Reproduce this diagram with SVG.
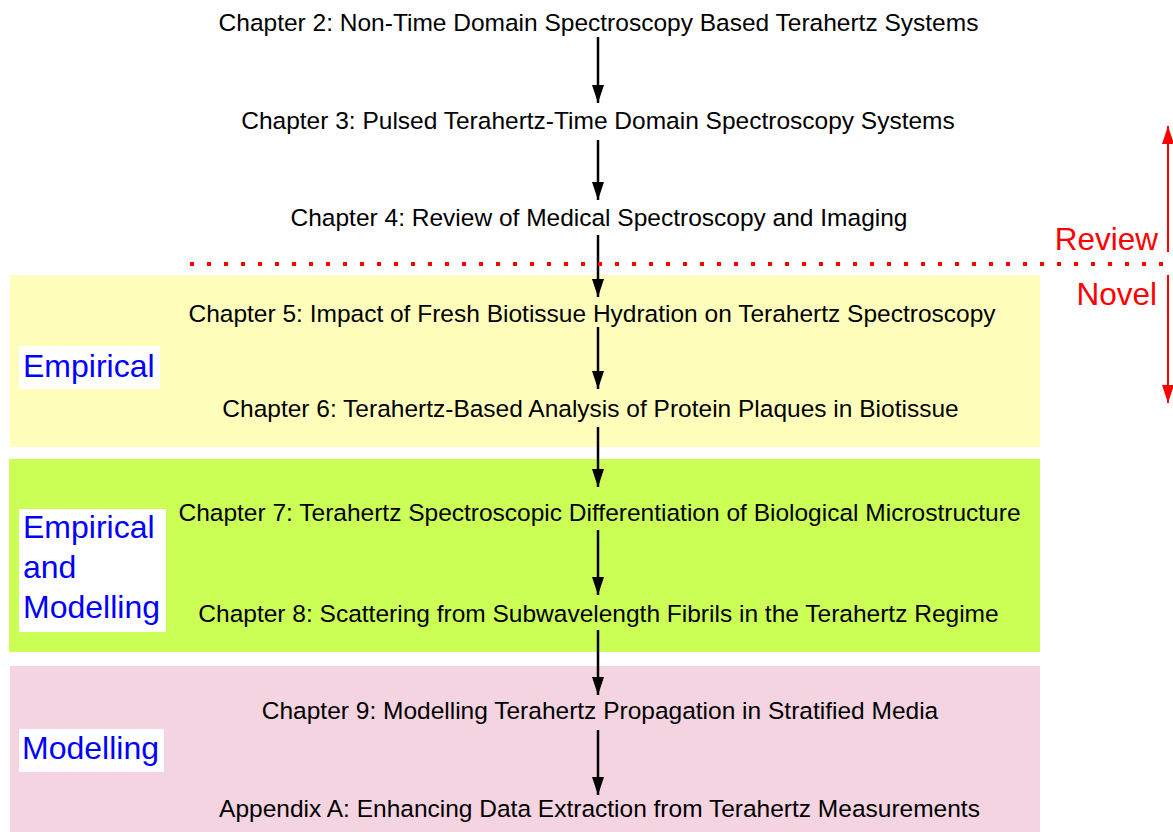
<svg xmlns="http://www.w3.org/2000/svg" width="1173" height="832" viewBox="0 0 1173 832">
<style>
.ch{font-family:"Liberation Sans",Arial,sans-serif;font-size:24.5px;fill:#000;text-anchor:middle}
.lb{font-family:"Liberation Sans",Arial,sans-serif;font-size:32px;fill:#0000ff}
.rd{font-family:"Liberation Sans",Arial,sans-serif;font-size:31.5px;fill:#ff0000;text-anchor:end}
.ar{stroke:#000;stroke-width:2.5;fill:none;marker-end:url(#ah)}
.rar{stroke:#ff0000;stroke-width:2;fill:none;marker-end:url(#rh)}
</style>
<defs>
<marker id="ah" viewBox="0 0 18 12" refX="18" refY="6" markerWidth="18" markerHeight="12" markerUnits="userSpaceOnUse" orient="auto">
<path d="M0,0 L18,6 L0,12 Z" fill="#000"/>
</marker>
<marker id="rh" viewBox="0 0 18 12" refX="18" refY="6" markerWidth="18" markerHeight="12" markerUnits="userSpaceOnUse" orient="auto">
<path d="M0,0 L18,6 L0,12 Z" fill="#ff0000"/>
</marker>
</defs>
<rect width="1173" height="832" fill="#fff"/>
<g id="bands">
<rect id="band-empirical" x="10" y="275" width="1030" height="172" fill="#ffffbb"/>
<rect id="band-emp-mod" x="9" y="459" width="1031" height="193" fill="#ccff55"/>
<rect id="band-modelling" x="10" y="666" width="1030" height="166" fill="#f3d4e0"/>
</g>
<g id="connectors">
<line class="ar" x1="598" y1="37" x2="598" y2="103"/>
<line class="ar" x1="598" y1="140" x2="598" y2="200"/>
<line class="ar" x1="598" y1="235" x2="598" y2="297"/>
<line class="ar" x1="598" y1="327" x2="598" y2="389"/>
<line class="ar" x1="598" y1="427" x2="598" y2="487"/>
<line class="ar" x1="598" y1="530" x2="598" y2="595"/>
<line class="ar" x1="598" y1="630" x2="598" y2="695"/>
<line class="ar" x1="598" y1="730" x2="598" y2="795"/>
</g>
<g id="divider">
<line x1="190" y1="264" x2="1173" y2="264" stroke="#ff0000" stroke-width="4" stroke-dasharray="4 13"/>
<line class="rar" x1="1168" y1="252" x2="1168" y2="126"/>
<line class="rar" x1="1168" y1="275" x2="1168" y2="403"/>
<text class="rd" x="1158" y="250">Review</text>
<text class="rd" x="1157" y="305">Novel</text>
</g>
<g id="ch2"><text class="ch" x="598.5" y="31">Chapter 2: Non-Time Domain Spectroscopy Based Terahertz Systems</text></g>
<g id="ch3"><text class="ch" x="598" y="129">Chapter 3: Pulsed Terahertz-Time Domain Spectroscopy Systems</text></g>
<g id="ch4"><text class="ch" x="599" y="226">Chapter 4: Review of Medical Spectroscopy and Imaging</text></g>
<g id="ch5"><text class="ch" x="592" y="322">Chapter 5: Impact of Fresh Biotissue Hydration on Terahertz Spectroscopy</text></g>
<g id="ch6"><text class="ch" x="590.5" y="417">Chapter 6: Terahertz-Based Analysis of Protein Plaques in Biotissue</text></g>
<g id="ch7"><text class="ch" x="599.5" y="521">Chapter 7: Terahertz Spectroscopic Differentiation of Biological Microstructure</text></g>
<g id="ch8"><text class="ch" x="598.5" y="622">Chapter 8: Scattering from Subwavelength Fibrils in the Terahertz Regime</text></g>
<g id="ch9"><text class="ch" x="600" y="719">Chapter 9: Modelling Terahertz Propagation in Stratified Media</text></g>
<g id="appA"><text class="ch" x="599.5" y="817">Appendix A: Enhancing Data Extraction from Terahertz Measurements</text></g>
<g id="label-empirical">
<rect x="19" y="346" width="141" height="43" fill="#fff"/>
<text class="lb" x="23" y="377">Empirical</text>
</g>
<g id="label-emp-mod">
<rect x="19" y="509" width="147" height="123" fill="#fff"/>
<text class="lb" x="23" y="538">Empirical</text>
<text class="lb" x="23" y="578">and</text>
<text class="lb" x="23" y="618">Modelling</text>
</g>
<g id="label-modelling">
<rect x="19" y="729" width="145" height="43" fill="#fff"/>
<text class="lb" x="22" y="759">Modelling</text>
</g>
</svg>
